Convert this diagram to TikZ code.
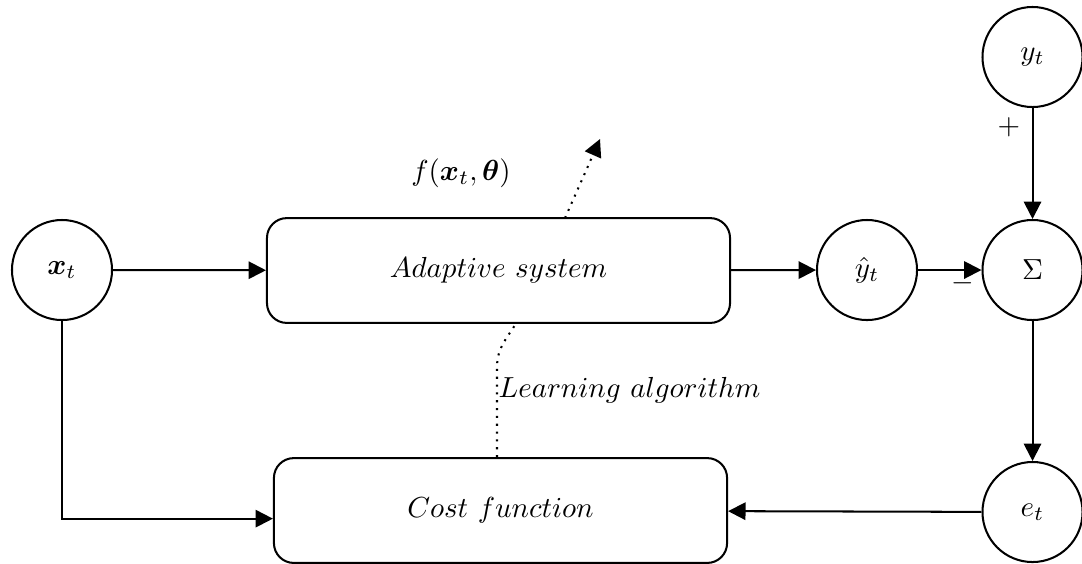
\documentclass[tikz,border=0pt]{standalone}
\usepackage{amsmath,amssymb}
\usetikzlibrary{arrows.meta}
\tikzset{
  circ/.style={draw, circle, line width=0.7pt, minimum size=1.212cm, inner sep=0pt},
  blk/.style={draw, rounded corners=0.24cm, line width=0.7pt, inner sep=0pt},
  conn/.style={line width=0.7pt, -{Triangle[length=6pt,width=6pt]}},
  dotconn/.style={line width=0.7pt, dotted},
  sign/.style={inner sep=0pt}
}
\begin{document}
\begin{tikzpicture}[x=0.01212cm, y=-0.01212cm]
\useasboundingbox (0,0) rectangle (1082,563);

% blocks and signals
\node[circ] (x) at (62,270) {$\boldsymbol{x}_t$};
\node[blk, minimum width=5.61cm, minimum height=1.27cm] (adapt) at (498.5,270.5) {$Adaptive\ system$};
\node[circ] (yhat) at (867,270) {$\hat{y}_t$};
\node[circ] (sum) at (1032.5,270) {$\Sigma$};
\node[circ] (y) at (1032.5,57) {$y_t$};
\node[circ] (e) at (1032.5,512) {$e_t$};
\node[blk, minimum width=5.49cm, minimum height=1.27cm] (cost) at (500.5,510.5) {$Cost\ function$};

% forward path
\draw[conn] (x) -- (adapt);
\draw[conn] (adapt) -- (yhat);
\draw[conn] (yhat) -- (sum);
\draw[conn] (y) -- (sum);
\draw[conn] (sum) -- (e);
\draw[conn] (e) -- (cost);
\draw[conn] (x.south) |- ([yshift=-2.8pt]cost.west);

% signs at the summing junction
\node[sign] (minus) at (963,283) {$-$};
\node[sign] (plus) at (1009,127) {$+$};

% parameter update
\coordinate (fout) at (600,139);
\draw[dotconn, -{Triangle[length=6pt,width=6pt]}] (565,218) -- (fout);
\node[sign] (flabel) at (461,173) {$f(\boldsymbol{x}_t,\boldsymbol{\theta})$};

\coordinate (lbend) at (497,367);
\draw[dotconn] (cost.north -| lbend) -- (lbend) .. controls (497,348) and (507,338) .. (515,325);
\node[sign, anchor=west] (learn) at (498,390) {$Learning\ algorithm$};
\end{tikzpicture}
\end{document}
